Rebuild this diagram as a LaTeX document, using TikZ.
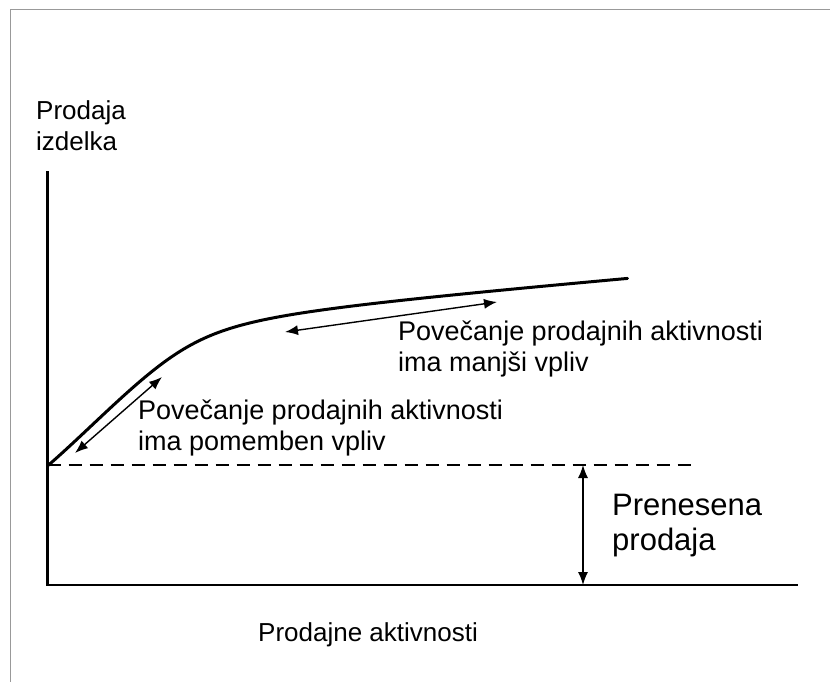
\documentclass[tikz,border=0pt]{standalone}
\usepackage{fontspec}
\setmainfont{Liberation Sans}
\usetikzlibrary{arrows.meta}
\begin{document}
\begin{tikzpicture}[x=1pt,y=-1pt,
  lbl/.style={anchor=base west,inner sep=0pt,align=left,font=\fontsize{27}{30.5}\selectfont},
  axislbl/.style={lbl,font=\fontsize{26}{30.5}\selectfont},
  axis/.style={line width=2.4pt,line cap=rect},
  guide/.style={line width=1.4pt,{Latex[length=13pt,width=10pt]}-{Latex[length=13pt,width=10pt]}},
  frameline/.style={draw=black!40,line width=1.5pt}]
\useasboundingbox (0,0) rectangle (830,682);
% outer frame (top and left edges)
\draw[frameline] (10.5,682) -- (10.5,9.5) -- (830,9.5);
% axes
\coordinate (ytop) at (47.5,172);
\coordinate (orig) at (47.5,585);
\coordinate (xend) at (797,585);
\draw[axis] (ytop) -- (orig) -- (xend);
% carried-over sales level
\coordinate (base0) at (47.5,465);
\coordinate (base1) at (697,465);
\draw[line width=2.4pt,dash pattern=on 13pt off 8pt] (base0) -- (base1);
% response curve: smooth blend of a steep start and a flat tail
\draw[line width=3pt,line cap=round] plot[domain=0:580,samples=150,smooth]
  ({47.5+\x},{465 - (1.185*\x + 140 - 10*sqrt(((1.015*\x - 140)/10)^2 + 49))/2 - 7.3*exp(-\x/40)});
% guides along the curve
\coordinate (g1a) at (75,453);
\coordinate (g1b) at (162,377);
\draw[guide] (g1a) -- (g1b);
\coordinate (g2a) at (285,332);
\coordinate (g2b) at (497,302);
\draw[guide] (g2a) -- (g2b);
\coordinate (v1) at (583,465);
\coordinate (v2) at (583,585);
\draw[guide] (v1) -- (v2);
% labels
\node[axislbl] (ylab) at (36,150) {Prodaja\\izdelka};
\node[axislbl] (xlab) at (258,641) {Prodajne aktivnosti};
\node[lbl] (t1) at (138,450) {Povečanje prodajnih aktivnosti\\ima pomemben vpliv};
\node[lbl] (t2) at (398,371) {Povečanje prodajnih aktivnosti\\ima manjši vpliv};
\node[lbl,font=\fontsize{31}{35}\selectfont] (t3) at (612,550) {Prenesena\\prodaja};
\end{tikzpicture}
\end{document}
